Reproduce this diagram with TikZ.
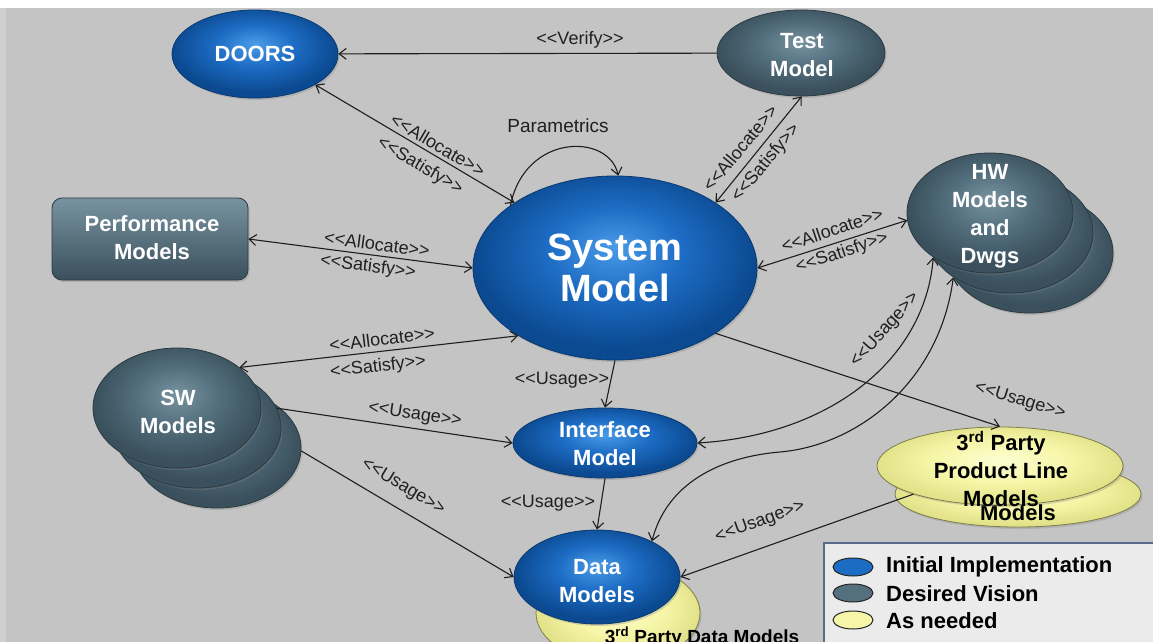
\documentclass[tikz,border=0pt]{standalone}
\usepackage{fontspec}
\setmainfont{Liberation Sans}
\usetikzlibrary{shapes.geometric,arrows.meta,shadows}
\definecolor{bgc}{HTML}{C4C4C4}
\definecolor{bgl}{HTML}{CFCFCF}
\definecolor{bla}{HTML}{4A9BE8}
\definecolor{blb}{HTML}{1D6CC4}
\definecolor{blc}{HTML}{0B4990}
\definecolor{blline}{HTML}{0A3A70}
\definecolor{sla}{HTML}{7893A0}
\definecolor{slb}{HTML}{546F7D}
\definecolor{slc}{HTML}{3A505C}
\definecolor{slline}{HTML}{2A3A42}
\definecolor{yea}{HTML}{FDFDD2}
\definecolor{yeb}{HTML}{F6F6A8}
\definecolor{yec}{HTML}{E2E28A}
\definecolor{yeline}{HTML}{7E7E48}
\definecolor{linec}{HTML}{1E1E1E}
\definecolor{lblc}{HTML}{202020}
\definecolor{legfill}{HTML}{EBEBEB}
\definecolor{legline}{HTML}{5A6B8A}
\pgfdeclareradialshading{bluesh}{\pgfpoint{0bp}{6bp}}{color(0bp)=(bla); color(12bp)=(blb); color(25bp)=(blc); color(50bp)=(blc)}
\pgfdeclareradialshading{slatesh}{\pgfpoint{0bp}{6bp}}{color(0bp)=(sla); color(12bp)=(slb); color(25bp)=(slc); color(50bp)=(slc)}
\pgfdeclareradialshading{yellowsh}{\pgfpoint{0bp}{4bp}}{color(0bp)=(yea); color(14bp)=(yeb); color(25bp)=(yec); color(50bp)=(yec)}
\newcommand\LL{<\kern0pt<}
\newcommand\GG{>\kern0pt>}
\tikzset{
  ell/.style={ellipse, inner sep=0pt, line width=0.8pt,
    drop shadow={shadow xshift=1.5pt, shadow yshift=-2pt, opacity=0.3}},
  bluen/.style={ell, draw=blline, shading=bluesh},
  slaten/.style={ell, draw=slline, shading=slatesh},
  yellown/.style={ell, draw=yeline, shading=yellowsh},
  ntext/.style={text=white, font=\fontsize{22}{28}\selectfont\bfseries, align=center, inner sep=0pt},
  ytext/.style={text=black, font=\fontsize{22}{28}\selectfont\bfseries, align=center, inner sep=0pt},
  lbl/.style={font=\fontsize{18}{20}\selectfont, text=lblc, inner sep=0pt},
  arr/.style={-{Straight Barb[length=7pt,width=11pt]}, line width=1.1pt, draw=linec},
  darr/.style={{Straight Barb[length=7pt,width=11pt]}-{Straight Barb[length=7pt,width=11pt]}, line width=1.1pt, draw=linec},
  legell/.style={ellipse, inner sep=0pt, minimum width=40pt, minimum height=18pt, line width=1pt, draw=black!85},
  legtext/.style={anchor=west, text=black, font=\fontsize{22}{24}\selectfont\bfseries, inner sep=0pt}
}
\begin{document}
\begin{tikzpicture}[x=1pt,y=-1pt]
\useasboundingbox (0,0) rectangle (1153,642);
\clip (0,0) rectangle (1153,642);
% background
\fill[bgc] (0,0) rectangle (1153,642);
\fill[bgl] (0,0) rectangle (6,642);
\fill[white] (0,0) rectangle (1153,8);

% ---- nodes ----
\node[bluen, minimum width=166pt, minimum height=88pt] (doors) at (255,54) {};
\node[ntext] (doorsT) at (255,54) {DOORS};

\node[slaten, minimum width=168pt, minimum height=86pt] (tm) at (801,53) {};
\node[ntext] (tmT) at (802,55) {Test\\Model};

\node[bluen, minimum width=284pt, minimum height=184pt] (sm) at (615,268) {};
\node[ntext, font=\fontsize{38}{41}\selectfont\bfseries] (smT) at (615,268) {System\\Model};

\node[rectangle, rounded corners=10pt, minimum width=196pt, minimum height=82pt, inner sep=0pt,
      top color=sla, bottom color=slc, draw=slline, line width=0.8pt,
      drop shadow={shadow xshift=1.5pt, shadow yshift=-2pt, opacity=0.3}] (perf) at (150,239) {};
\node[ntext] (perfT) at (152,238) {Performance\\Models};

\node[slaten, minimum width=166pt, minimum height=120pt] (hw3) at (1030,253) {};
\node[slaten, minimum width=166pt, minimum height=120pt] (hw2) at (1010,233) {};
\node[slaten, minimum width=166pt, minimum height=120pt] (hw) at (990,213) {};
\node[ntext] (hwT) at (990,216) {HW\\Models\\and\\Dwgs};

\node[slaten, minimum width=168pt, minimum height=120pt] (sw3) at (217,448) {};
\node[slaten, minimum width=168pt, minimum height=120pt] (sw2) at (197,428) {};
\node[slaten, minimum width=168pt, minimum height=120pt] (sw) at (177,408) {};
\node[ntext] (swT) at (178,412) {SW\\Models};

\node[bluen, minimum width=184pt, minimum height=70pt] (iface) at (605,443) {};
\node[ntext] (ifaceT) at (605,444) {Interface\\Model};

\node[yellown, minimum width=164pt, minimum height=100pt] (dyel) at (618,613) {};
\node[anchor=base, text=black, font=\fontsize{19}{21}\selectfont\bfseries, inner sep=0pt] (dyelT) at (702,643) {3\textsuperscript{rd} Party Data Models};

\node[bluen, minimum width=166pt, minimum height=94pt] (data) at (597,577) {};
\node[ntext] (dataT) at (597,581) {Data\\Models};

\node[yellown, minimum width=246pt, minimum height=66pt] (plb) at (1018,494) {};
\node[ytext] (plbT) at (1018,513) {Models};
\node[yellown, minimum width=246pt, minimum height=78pt] (pl) at (1000,466) {};
\node[ytext] (plT) at (1001,469) {3\textsuperscript{rd} Party\\Product Line\\Models};

% ---- legend ----
\node[draw=legline, fill=legfill, line width=1.5pt, rectangle, inner sep=0pt, anchor=north west,
      minimum width=340pt, minimum height=110pt] (legend) at (823,542) {};
\node[legell, fill=blb] (leg1) at (853,567) {};
\node[legtext] (leg1T) at (886,567) {Initial Implementation};
\node[legell, fill=slb] (leg2) at (853,593) {};
\node[legtext] (leg2T) at (886,594) {Desired Vision};
\node[legell, fill=yeb] (leg3) at (853,620) {};
\node[legtext] (leg3T) at (886,621) {As needed};

% ---- connectors ----
\draw[arr] (tm) -- (doors);
\draw[darr] (doors.-27) -- (sm.147);
\draw[arr] (sm.149) .. controls (525,133) and (609,133) .. (sm.88);
\draw[darr] (perf.east) -- (sm.west);
\draw[darr] (tm.-89) -- (sm.33);
\draw[darr] (sm.east) -- (hw.185);
\draw[darr] (sw.33) -- (sm.215);
\draw[arr] (sw2.14) -- (iface.west);
\draw[arr] (sw3.-2) -- (data.west);
\draw[arr] (sm.south) -- (iface.north);
\draw[arr] (iface.south) -- (data.north);
\draw[darr] (hw.218) .. controls (925,360) and (830,435) .. (iface.east);
\draw[darr] (hw2.218) .. controls (940,380) and (860,445) .. (780,452)
                      .. controls (710,458) and (665,490) .. (data.33);
\draw[arr] (sm.-33) -- (pl.north);
\draw[arr] (pl.198) -- (data.east);

% ---- labels ----
\node[lbl] (lverify) at (580,40) {\LL Verify\GG};
\node[lbl, font=\fontsize{19}{21}\selectfont] (lpar) at (558,126) {Parametrics};
\node[lbl, rotate=-30.6] (ldA) at (438,145) {\LL Allocate\GG};
\node[lbl, rotate=-30.6] (ldS) at (420,166) {\LL Satisfy\GG};
\node[lbl, rotate=-7.3] (lpA) at (377,244) {\LL Allocate\GG};
\node[lbl, rotate=-7.3] (lpS) at (368,267) {\LL Satisfy\GG};
\node[lbl, rotate=50.4] (ltA) at (740,148) {\LL Allocate\GG};
\node[lbl, rotate=50.4] (ltS) at (766,163) {\LL Satisfy\GG};
\node[lbl, rotate=18.5] (lhA) at (832,230) {\LL Allocate\GG};
\node[lbl, rotate=18.5] (lhS) at (842,253) {\LL Satisfy\GG};
\node[lbl, rotate=6.7] (lsA) at (382,339) {\LL Allocate\GG};
\node[lbl, rotate=6.7] (lsS) at (378,367) {\LL Satisfy\GG};
\node[lbl, rotate=-8.4] (lsu1) at (415,415) {\LL Usage\GG};
\node[lbl, rotate=-31.2] (lsu2) at (403,487) {\LL Usage\GG};
\node[lbl] (lmu) at (562,380) {\LL Usage\GG};
\node[lbl] (liu) at (548,503) {\LL Usage\GG};
\node[lbl, rotate=48] (lhu) at (885,330) {\LL Usage\GG};
\node[lbl, rotate=-17] (lpu) at (1020,401) {\LL Usage\GG};
\node[lbl, rotate=20] (lpdu) at (760,522) {\LL Usage\GG};
\end{tikzpicture}
\end{document}
